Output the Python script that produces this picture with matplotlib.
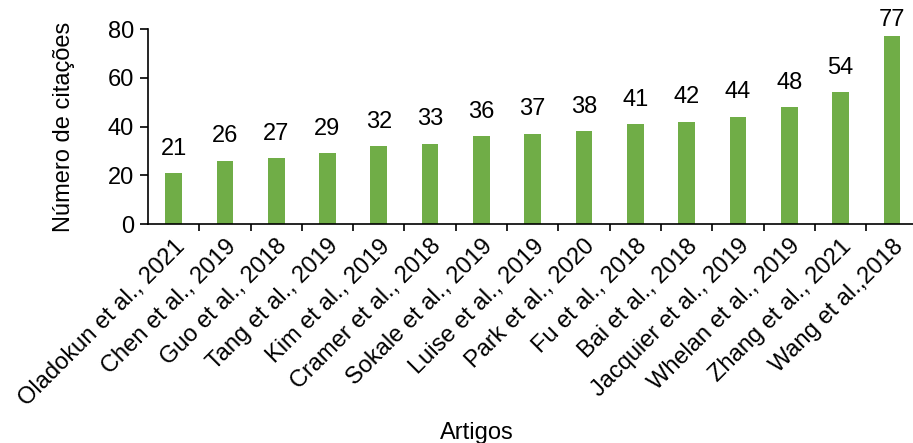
import matplotlib
matplotlib.use("Agg")
from matplotlib import pyplot as plt
import numpy as np

plt.rcParams['font.family'] = ['Liberation Sans', 'DejaVu Sans']

artigos = ["Oladokun et al., 2021", "Chen et al., 2019", "Guo et al., 2018",
           "Tang et al., 2019", "Kim et al., 2019", "Cramer et al., 2018",
           "Sokale et al., 2019", "Luise et al., 2019", "Park et al., 2020",
           "Fu et al., 2018", "Bai et al., 2018", "Jacquier et al., 2019",
           "Whelan et al., 2019", "Zhang et al., 2021", "Wang et al.,2018"]
citacoes = [21, 26, 27, 29, 32, 33, 36, 37, 38, 41, 42, 44, 48, 54, 77]
yticks = [0, 20, 40, 60, 80]

fs = 17

fig = plt.figure(figsize=(9.13, 4.43), dpi=100)
ax = fig.add_axes([0.162, 0.494, 0.843, 0.4405])

x = np.arange(len(artigos))
ax.bar(x, citacoes, width=0.325, color="#70AD47")
# data labels above bars (the tallest one gets squeezed under the top, like excel does)
for xi, v in zip(x, citacoes):
    ax.text(xi, min(v + 5.5, 79.3), str(v), ha="center", va="bottom", fontsize=fs)

ax.set_xlim(-0.5, len(artigos) - 0.5)
ax.set_ylim(0, 80)
ax.set_yticks(yticks)
ax.tick_params(axis="y", labelsize=fs, length=6, width=1.2, pad=4)

ax.set_xticks(x)
ax.set_xticklabels(artigos, rotation=45, ha="right", rotation_mode="anchor", fontsize=fs)
ax.tick_params(axis="x", which="major", length=0, pad=8)
ax.set_xticks(np.arange(0.5, len(artigos) - 0.5, 1), minor=True)
ax.tick_params(axis="x", which="minor", length=5, width=1.2, direction="out")

for s in ["top", "right"]:
    ax.spines[s].set_visible(False)
for s in ["left", "bottom"]:
    ax.spines[s].set_linewidth(1.2)

ax.set_ylabel("Número de citações", fontsize=fs)
ax.yaxis.set_label_coords(-0.095, 0.5)
ax.set_xlabel("Artigos", fontsize=fs)
ax.xaxis.set_label_coords(0.427, -1.015)

fig.savefig("out.png", dpi=100)
